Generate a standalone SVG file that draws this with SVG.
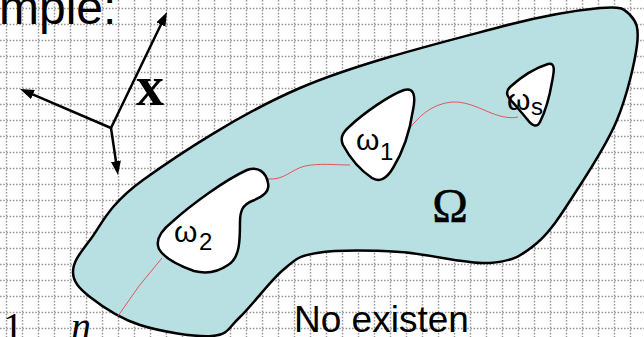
<svg xmlns="http://www.w3.org/2000/svg" width="644" height="337" viewBox="0 0 644 337">
<style>
.grid{fill:none;stroke:#9a9a9a;stroke-width:1.5;stroke-dasharray:1.6 1.6}
.region{fill:#b8dfe2;stroke:#000;stroke-width:2.5;stroke-linejoin:round}
.hole{fill:#fff;stroke:#000;stroke-width:2.5;stroke-linejoin:round}
.path{fill:none;stroke:#e8464f;stroke-width:0.9}
.axis{fill:none;stroke:#000;stroke-width:2.5;marker-end:url(#ah)}
.sans{font-family:"Liberation Sans",Arial,sans-serif;fill:#000}
.serif{font-family:"Liberation Serif","Times New Roman",serif;fill:#000}
</style>
<defs>
<marker id="ah" viewBox="0 0 14 10" refX="6" refY="5" markerWidth="14" markerHeight="10" markerUnits="userSpaceOnUse" orient="auto">
<path d="M0,0 L14,5 L0,10 Z" fill="#000"/>
</marker>
</defs>
<rect width="644" height="337" fill="#fff"/>
<path class="grid" d="M6.5 0V337M22.5 0V337M38.5 0V337M54.5 0V337M70.5 0V337M86.5 0V337M102.5 0V337M118.5 0V337M134.5 0V337M150.5 0V337M166.5 0V337M182.5 0V337M198.5 0V337M214.5 0V337M230.5 0V337M246.5 0V337M262.5 0V337M278.5 0V337M294.5 0V337M310.5 0V337M326.5 0V337M342.5 0V337M358.5 0V337M374.5 0V337M390.5 0V337M406.5 0V337M422.5 0V337M438.5 0V337M454.5 0V337M470.5 0V337M486.5 0V337M502.5 0V337M518.5 0V337M534.5 0V337M550.5 0V337M566.5 0V337M582.5 0V337M598.5 0V337M614.5 0V337M630.5 0V337M0 8.5H644M0 24.5H644M0 40.5H644M0 56.5H644M0 72.5H644M0 88.5H644M0 104.5H644M0 120.5H644M0 136.5H644M0 152.5H644M0 168.5H644M0 184.5H644M0 200.5H644M0 216.5H644M0 232.5H644M0 248.5H644M0 264.5H644M0 280.5H644M0 296.5H644M0 312.5H644M0 328.5H644"/>
<text class="sans" x="-1" y="24" font-size="48">mple:</text>
<text class="serif" x="3" y="340" font-size="40">1</text>
<text class="serif" x="71" y="340" font-size="40" font-style="italic">n</text>
<text class="sans" x="294" y="332" font-size="37">No existen</text>
<g id="axes">
<path class="axis" d="M111,128 L163.5,19.2"/>
<path class="axis" d="M111,128 L27.4,92.2"/>
<path class="axis" d="M111,128 L116.8,167.1"/>
<text class="serif" x="136" y="105" font-size="56" font-weight="bold">x</text>
</g>
<g id="omega">
<path class="region" d="M143,180 C178,154.7 240.5,113.5 300,88 C359.5,62.5 450,40.3 500,27 C550,13.7 578.3,10 600,8 C621.7,6 623.8,8.8 630,15 C636.2,21.2 639.2,27.5 637,45 C634.8,62.5 627,95.8 617,120 C607,144.2 590.3,169.5 577,190 C563.7,210.5 551.5,230.8 537,243 C522.5,255.2 512.8,261.5 490,263 C467.2,264.5 428.8,253.7 400,252 C371.2,250.3 336.5,250 317,253 C297.5,256 295.8,259.3 283,270 C270.2,280.7 251.8,306 240,317 C228.2,328 228.7,334.7 212,336 C195.3,337.3 160.3,331.5 140,325 C119.7,318.5 101.2,305.8 90,297 C78.8,288.2 73,281.5 73,272 C73,262.5 78.3,255.3 90,240 C101.7,224.7 108,205.3 143,180 Z"/>
<text class="serif" x="450" y="222" font-size="48" stroke="#000" stroke-width="0.5" text-anchor="middle">Ω</text>
</g>
<g id="connectors">
<path class="path" d="M118,316 Q138,285 162,258"/>
<path class="path" d="M268,179 C285,180 290,170 305,166 C320,163 335,165 350,165"/>
<path class="path" d="M408,130 C418,118 430,104 452,102 C470,101 485,112 500,116 C508,118 513,118 518,117"/>
</g>
<g id="omega2">
<path class="hole" d="M247,170 C258,166 266,172 268,183 C270,192 262,197 252,201 C242,205 240,212 240,222 C240,240 240,258 228,265 C218,272 206,274 194,271 C180,266 164,258 159,249 C155,240 162,230 172,222 C192,204 225,180 247,170 Z"/>
<text class="sans" x="174" y="242" font-size="30">ω</text>
<text class="sans" x="199" y="250" font-size="24">2</text>
</g>
<g id="omega1">
<path class="hole" d="M404,90 C414,87 416,96 413,110 C410,130 403,152 393,168 C387,178 380,183 372,178 C360,170 350,158 343,145 C340,138 342,133 350,126 C365,112 390,95 404,90 Z"/>
<text class="sans" x="356" y="150" font-size="30">ω</text>
<text class="sans" x="380" y="160" font-size="24">1</text>
</g>
<g id="omegas">
<path class="hole" d="M548,64 C556,62 554,72 552,82 C549,100 545,112 540,122 C537,128 532,126 527,119 L516,106 C510,99 503,94 510,87 C520,78 535,68 548,64 Z"/>
<text class="sans" x="507" y="110" font-size="30">ω</text>
<text class="sans" x="531" y="115" font-size="24">s</text>
</g>
</svg>
